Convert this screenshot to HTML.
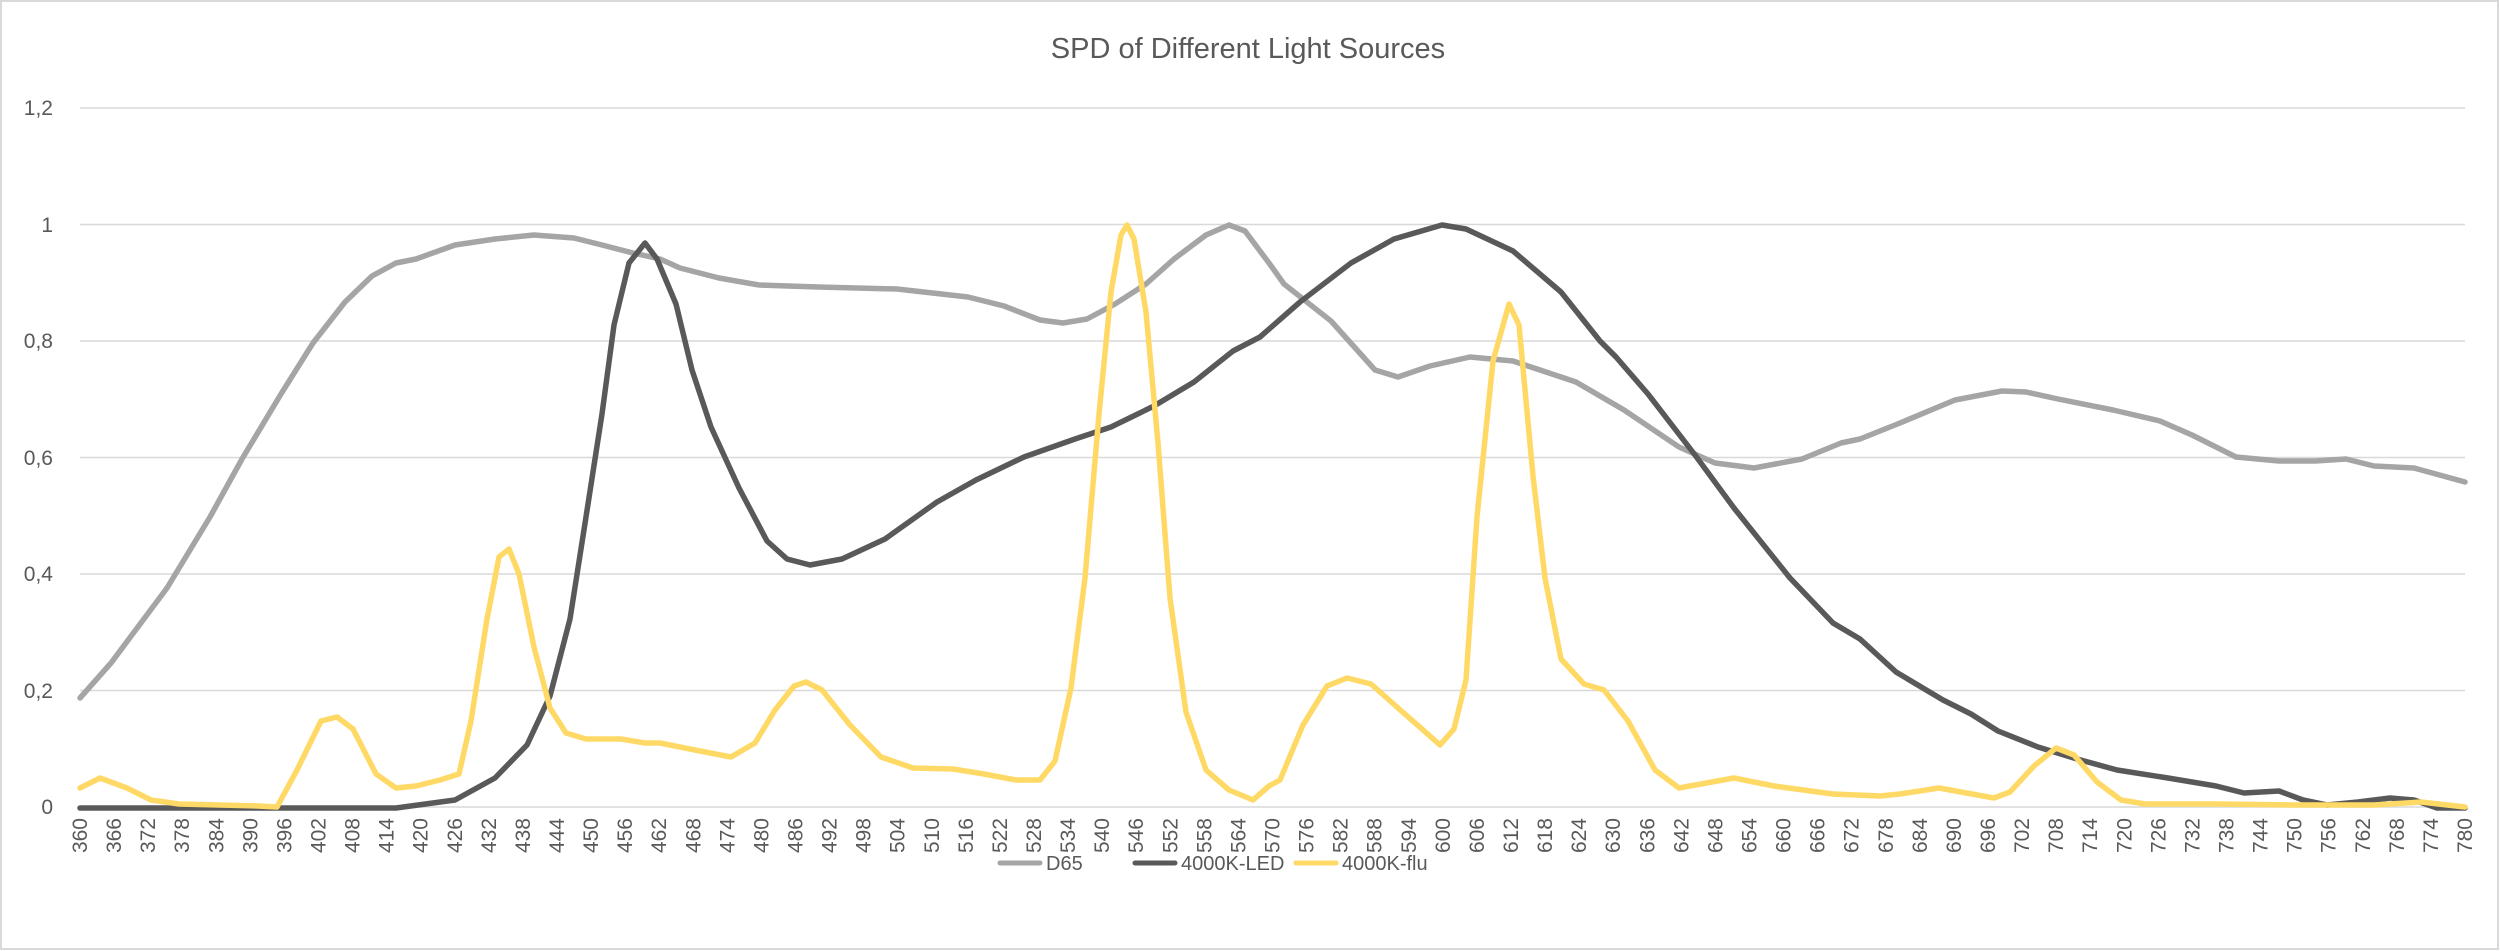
<!DOCTYPE html>
<html><head><meta charset="utf-8"><style>
html,body{margin:0;padding:0;background:#fff;}
svg{display:block;}
text{font-family:"Liberation Sans",sans-serif;fill:#595959;}
</style></head><body>
<svg width="2500" height="951" viewBox="0 0 2500 951" xmlns="http://www.w3.org/2000/svg">
<rect x="1" y="1" width="2497" height="948" fill="#fff" stroke="#d9d9d9" stroke-width="2"/>
<text x="1248" y="58" font-size="29" text-anchor="middle">SPD of Different Light Sources</text>
<g stroke="#d9d9d9" stroke-width="1.5">
<line x1="80" x2="2465" y1="108" y2="108"/>
<line x1="80" x2="2465" y1="224.5" y2="224.5"/>
<line x1="80" x2="2465" y1="341" y2="341"/>
<line x1="80" x2="2465" y1="457.5" y2="457.5"/>
<line x1="80" x2="2465" y1="574" y2="574"/>
<line x1="80" x2="2465" y1="690.5" y2="690.5"/>
<line x1="80" x2="2465" y1="807" y2="807"/>
</g>
<g font-size="21" text-anchor="end">
<text x="53" y="115">1,2</text>
<text x="53" y="232">1</text>
<text x="53" y="348">0,8</text>
<text x="53" y="465">0,6</text>
<text x="53" y="581">0,4</text>
<text x="53" y="698">0,2</text>
<text x="53" y="814">0</text>
</g>
<g font-size="21" text-anchor="end">
<text transform="translate(87.0,818) rotate(-90)">360</text>
<text transform="translate(121.1,818) rotate(-90)">366</text>
<text transform="translate(155.1,818) rotate(-90)">372</text>
<text transform="translate(189.2,818) rotate(-90)">378</text>
<text transform="translate(223.3,818) rotate(-90)">384</text>
<text transform="translate(257.4,818) rotate(-90)">390</text>
<text transform="translate(291.4,818) rotate(-90)">396</text>
<text transform="translate(325.5,818) rotate(-90)">402</text>
<text transform="translate(359.6,818) rotate(-90)">408</text>
<text transform="translate(393.6,818) rotate(-90)">414</text>
<text transform="translate(427.7,818) rotate(-90)">420</text>
<text transform="translate(461.8,818) rotate(-90)">426</text>
<text transform="translate(495.9,818) rotate(-90)">432</text>
<text transform="translate(529.9,818) rotate(-90)">438</text>
<text transform="translate(564.0,818) rotate(-90)">444</text>
<text transform="translate(598.1,818) rotate(-90)">450</text>
<text transform="translate(632.1,818) rotate(-90)">456</text>
<text transform="translate(666.2,818) rotate(-90)">462</text>
<text transform="translate(700.3,818) rotate(-90)">468</text>
<text transform="translate(734.4,818) rotate(-90)">474</text>
<text transform="translate(768.4,818) rotate(-90)">480</text>
<text transform="translate(802.5,818) rotate(-90)">486</text>
<text transform="translate(836.6,818) rotate(-90)">492</text>
<text transform="translate(870.6,818) rotate(-90)">498</text>
<text transform="translate(904.7,818) rotate(-90)">504</text>
<text transform="translate(938.8,818) rotate(-90)">510</text>
<text transform="translate(972.9,818) rotate(-90)">516</text>
<text transform="translate(1006.9,818) rotate(-90)">522</text>
<text transform="translate(1041.0,818) rotate(-90)">528</text>
<text transform="translate(1075.1,818) rotate(-90)">534</text>
<text transform="translate(1109.1,818) rotate(-90)">540</text>
<text transform="translate(1143.2,818) rotate(-90)">546</text>
<text transform="translate(1177.3,818) rotate(-90)">552</text>
<text transform="translate(1211.4,818) rotate(-90)">558</text>
<text transform="translate(1245.4,818) rotate(-90)">564</text>
<text transform="translate(1279.5,818) rotate(-90)">570</text>
<text transform="translate(1313.6,818) rotate(-90)">576</text>
<text transform="translate(1347.6,818) rotate(-90)">582</text>
<text transform="translate(1381.7,818) rotate(-90)">588</text>
<text transform="translate(1415.8,818) rotate(-90)">594</text>
<text transform="translate(1449.9,818) rotate(-90)">600</text>
<text transform="translate(1483.9,818) rotate(-90)">606</text>
<text transform="translate(1518.0,818) rotate(-90)">612</text>
<text transform="translate(1552.1,818) rotate(-90)">618</text>
<text transform="translate(1586.1,818) rotate(-90)">624</text>
<text transform="translate(1620.2,818) rotate(-90)">630</text>
<text transform="translate(1654.3,818) rotate(-90)">636</text>
<text transform="translate(1688.4,818) rotate(-90)">642</text>
<text transform="translate(1722.4,818) rotate(-90)">648</text>
<text transform="translate(1756.5,818) rotate(-90)">654</text>
<text transform="translate(1790.6,818) rotate(-90)">660</text>
<text transform="translate(1824.6,818) rotate(-90)">666</text>
<text transform="translate(1858.7,818) rotate(-90)">672</text>
<text transform="translate(1892.8,818) rotate(-90)">678</text>
<text transform="translate(1926.9,818) rotate(-90)">684</text>
<text transform="translate(1960.9,818) rotate(-90)">690</text>
<text transform="translate(1995.0,818) rotate(-90)">696</text>
<text transform="translate(2029.1,818) rotate(-90)">702</text>
<text transform="translate(2063.1,818) rotate(-90)">708</text>
<text transform="translate(2097.2,818) rotate(-90)">714</text>
<text transform="translate(2131.3,818) rotate(-90)">720</text>
<text transform="translate(2165.4,818) rotate(-90)">726</text>
<text transform="translate(2199.4,818) rotate(-90)">732</text>
<text transform="translate(2233.5,818) rotate(-90)">738</text>
<text transform="translate(2267.6,818) rotate(-90)">744</text>
<text transform="translate(2301.6,818) rotate(-90)">750</text>
<text transform="translate(2335.7,818) rotate(-90)">756</text>
<text transform="translate(2369.8,818) rotate(-90)">762</text>
<text transform="translate(2403.9,818) rotate(-90)">768</text>
<text transform="translate(2437.9,818) rotate(-90)">774</text>
<text transform="translate(2472.0,818) rotate(-90)">780</text>
</g>
<g fill="none" stroke-linejoin="round" stroke-linecap="round" stroke-width="5.5">
<polyline stroke="#a5a5a5" points="80,698 111,663 167,588 210,517 242,459 281,394 313,343 345,302 372,276 396,263 416,259 455,245 495,239 534,235 574,238 602,245 633,253 660,259 680,268 719,278 759,285 818,287 897,289 968,297 1004,306 1040,320 1063,323 1087,319 1115,304 1146,284 1174,259 1206,235 1229,225 1245,231 1269,263 1284,284 1331,321 1375,370 1398,377 1430,366 1470,357 1513,361 1576,382 1624,410 1679,447 1715,463 1754,468 1802,459 1841,443 1860,439 1900,423 1955,400 2002,391 2026,392 2058,399 2113,410 2160,421 2192,435 2236,457 2279,461 2315,461 2346,459 2374,466 2414,468 2465,482"/>
<polyline stroke="#595959" points="80,808 396,808 455,800 495,778 527,745 550,696 570,619 586,517 602,414 614,325 629,263 645,243 657,259 676,304 692,370 711,427 739,488 767,541 787,559 810,565 842,559 885,539 937,502 976,480 1024,457 1075,439 1111,427 1154,406 1194,382 1233,351 1260,337 1300,302 1351,263 1394,239 1442,225 1466,229 1513,251 1561,292 1600,341 1616,357 1648,394 1695,455 1734,508 1790,578 1833,623 1860,639 1896,672 1943,700 1971,714 1998,731 2038,747 2077,759 2117,770 2168,778 2216,786 2244,793 2279,791 2303,800 2327,805 2358,802 2390,798 2414,800 2437,808 2465,808"/>
<polyline stroke="#ffd966" points="80,788 100,778 127,788 151,800 179,804 258,806 277,807 297,770 321,721 337,717 353,729 376,774 396,788 416,786 440,780 459,774 471,721 487,619 499,557 509,549 519,574 534,647 550,708 566,733 586,739 621,739 645,743 660,743 700,751 731,757 755,743 775,710 794,686 806,682 822,690 850,725 881,757 913,768 953,769 984,774 1016,780 1040,780 1055,761 1071,688 1085,578 1099,414 1111,292 1121,235 1127,225 1134,239 1146,312 1158,443 1170,598 1186,712 1206,770 1229,790 1253,800 1269,786 1280,780 1303,725 1327,686 1347,678 1371,684 1398,708 1422,729 1440,745 1454,729 1466,680 1477,517 1493,361 1509,304 1519,325 1533,476 1545,578 1561,659 1584,684 1604,690 1628,721 1655,770 1679,788 1734,778 1774,786 1833,794 1880,796 1900,794 1939,788 1994,798 2010,792 2034,766 2056,748 2074,755 2097,782 2121,800 2145,804 2216,804 2295,805 2374,805 2421,802 2465,807"/>
</g>
<g stroke-width="5" stroke-linecap="round">
<line x1="1000" x2="1040" y1="863" y2="863" stroke="#a5a5a5"/>
<line x1="1135" x2="1175" y1="863" y2="863" stroke="#595959"/>
<line x1="1296" x2="1336" y1="863" y2="863" stroke="#ffd966"/>
</g>
<g font-size="20">
<text x="1046" y="870">D65</text>
<text x="1181" y="870">4000K-LED</text>
<text x="1342" y="870">4000K-flu</text>
</g>
</svg>
</body></html>
